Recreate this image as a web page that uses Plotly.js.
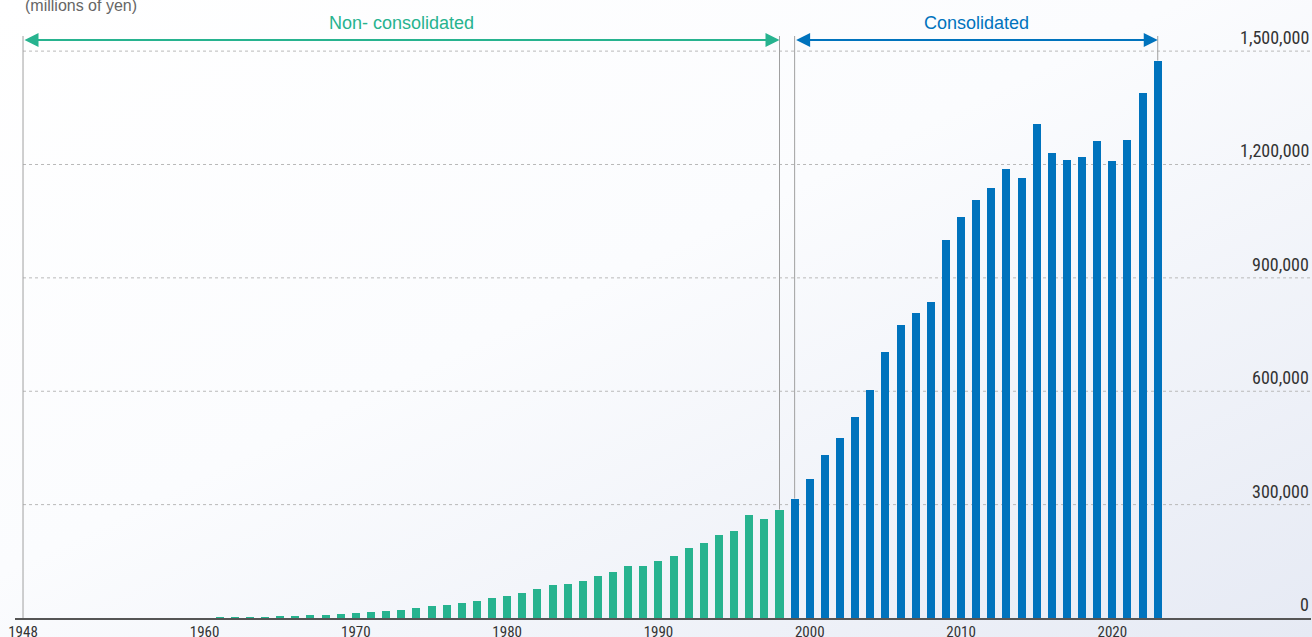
<!DOCTYPE html>
<html>
<head>
<meta charset="utf-8">
<script src="https://cdn.plot.ly/plotly-3.0.1.min.js"></script>
<style>
  html, body { margin: 0; padding: 0; }
  body { width: 1312px; height: 637px; overflow: hidden;
         background: linear-gradient(to bottom right, #ffffff 0%, #fbfcfe 45%, #e6eaf4 100%); }
  #chart { width: 1312px; height: 637px; }
</style>
</head>
<body>
<div id="chart"></div>
<script>
// ---- data (millions of yen) ----
const nonConsYears = [];
for (let y = 1948; y <= 1998; y++) nonConsYears.push(y);
const nonConsValues = [
  50, 80, 120, 180, 250, 320, 380, 430, 520, 640, 700, 850,          // 1948-1959
  1100, 1500, 1900, 2300, 2700, 4600, 5300, 7600, 8600, 10600,       // 1960-1969
  13100, 15600, 18400, 22500, 27500, 30500, 35500, 40500, 46000, 54000, // 1970-1979
  59000, 67000, 78000, 88000, 91000, 99000, 112000, 122000, 138000, 138500, // 1980-1989
  152000, 165000, 186000, 199000, 220000, 231000, 273000, 263000, 287000  // 1990-1998
];
const consYears = [];
for (let y = 1999; y <= 2023; y++) consYears.push(y);
const consValues = [
  316000, 369000, 430000, 475000, 533000, 602000, 705000, 774000, 806000, 837000, // 1999-2008
  1001000, 1060000, 1107000, 1139000, 1189000, 1163000, 1308000, 1231000, 1213000, 1221000, // 2009-2018
  1263000, 1210000, 1266000, 1390000, 1475000  // 2019-2023
];
const xTickVals = [1948, 1960, 1970, 1980, 1990, 2000, 2010, 2020];
const yTickVals = [0, 300000, 600000, 900000, 1200000, 1500000];
const yTickText = ['0', '300,000', '600,000', '900,000', '1,200,000', '1,500,000'];
const labels = { unit: '(millions of yen)', nonCons: 'Non- consolidated', cons: 'Consolidated' };

// ---- style ----
const GREEN = '#27b38f';
const BLUE = '#0073bd';
const NARROW = '"Liberation Sans Narrow", "Roboto Condensed", Roboto, sans-serif';
const SANS = '"Liberation Sans", Arial, sans-serif';
const X_RANGE = [1947.47, 2033.13];
const Y_RANGE = [0, 1540000];
const ARROW_Y = 0.993;

const traces = [
  { type: 'bar', x: nonConsYears, y: nonConsValues, width: 0.53,
    marker: { color: GREEN }, hoverinfo: 'skip', showlegend: false },
  { type: 'bar', x: consYears, y: consValues, width: 0.53,
    marker: { color: BLUE }, hoverinfo: 'skip', showlegend: false }
];

const shapes = [];
// dotted gridlines starting at the first year
yTickVals.filter(v => v > 0).forEach(v => {
  shapes.push({ type: 'line', xref: 'x', yref: 'y', x0: nonConsYears[0], x1: X_RANGE[1],
    y0: v, y1: v, line: { color: '#b9b9b9', width: 1, dash: 'dot' }, layer: 'below' });
});
// vertical guide lines from the arrow level down to the bar tops
const guides = [
  [nonConsYears[0], nonConsValues[0]],
  [nonConsYears[nonConsYears.length - 1], nonConsValues[nonConsValues.length - 1]],
  [consYears[0], consValues[0]],
  [consYears[consYears.length - 1], consValues[consValues.length - 1]]
];
guides.forEach(([x, v]) => {
  shapes.push({ type: 'line', xref: 'x', yref: 'y', x0: x, x1: x, y0: v, y1: Y_RANGE[1],
    line: { color: '#a0a0a0', width: 1 }, layer: 'above' });
});

const annotations = [
  { xref: 'paper', yref: 'paper', x: 0.0062, y: 1.053, xanchor: 'left', yanchor: 'middle',
    text: labels.unit, showarrow: false, font: { family: SANS, size: 16, color: '#666' } },
  { xref: 'x', yref: 'paper', x: (nonConsYears[0] + nonConsYears[nonConsYears.length - 1]) / 2,
    y: 1.0223, yanchor: 'middle', text: labels.nonCons, showarrow: false,
    font: { family: SANS, size: 18, color: GREEN } },
  { xref: 'x', yref: 'paper', x: (consYears[0] + consYears[consYears.length - 1]) / 2,
    y: 1.0223, yanchor: 'middle', text: labels.cons, showarrow: false,
    font: { family: SANS, size: 18, color: BLUE } },
  { xref: 'x', yref: 'paper', x: nonConsYears[nonConsYears.length - 1], y: ARROW_Y,
    axref: 'x', ax: nonConsYears[0], ayref: 'pixel', ay: 0, text: '', showarrow: true,
    arrowside: 'end+start', arrowhead: 2, startarrowhead: 2, arrowsize: 1.4, startarrowsize: 1.4,
    arrowwidth: 2, arrowcolor: GREEN, standoff: 0, startstandoff: 0 },
  { xref: 'x', yref: 'paper', x: consYears[consYears.length - 1], y: ARROW_Y,
    axref: 'x', ax: consYears[0], ayref: 'pixel', ay: 0, text: '', showarrow: true,
    arrowside: 'end+start', arrowhead: 2, startarrowhead: 2, arrowsize: 1.4, startarrowsize: 1.4,
    arrowwidth: 2, arrowcolor: BLUE, standoff: 0, startstandoff: 0 }
];
// y tick labels, right-aligned just above their gridlines
yTickVals.forEach((v, i) => {
  annotations.push({ xref: 'paper', yref: 'y', x: 1, y: v, xanchor: 'right', yanchor: 'bottom',
    yshift: 1, text: yTickText[i], showarrow: false,
    font: { family: NARROW, size: 18, color: '#333' } });
});

const layout = {
  width: 1312, height: 637,
  margin: { l: 15, r: 1, t: 36, b: 19, pad: 0 },
  paper_bgcolor: 'rgba(0,0,0,0)', plot_bgcolor: 'rgba(0,0,0,0)',
  bargap: 0,
  xaxis: {
    range: X_RANGE, tickvals: xTickVals, ticktext: xTickVals.map(String),
    showgrid: false, zeroline: false, showline: true, linecolor: '#555', linewidth: 1.5,
    ticks: '', ticklabelstandoff: -1,
    tickfont: { family: NARROW, size: 15, color: '#333' }, fixedrange: true
  },
  yaxis: {
    range: Y_RANGE, side: 'right', showticklabels: false,
    showgrid: false, zeroline: false, showline: false, ticks: '', fixedrange: true
  },
  shapes: shapes,
  annotations: annotations,
  showlegend: false
};

Plotly.newPlot('chart', traces, layout, { displayModeBar: false, staticPlot: true });
</script>
</body>
</html>
